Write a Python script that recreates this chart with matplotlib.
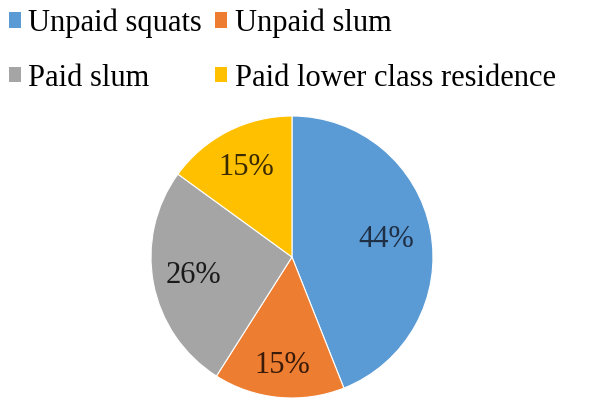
import matplotlib
matplotlib.use('Agg')
import matplotlib.pyplot as plt
from matplotlib.patches import Patch

plt.rcParams['font.family'] = ['Liberation Serif', 'DejaVu Serif']

categories = ['Unpaid squats', 'Unpaid slum', 'Paid slum', 'Paid lower class residence']
shares = [44, 15, 26, 15]
colors = ['#5B9BD5', '#ED7D31', '#A5A5A5', '#FFC000']
text_colors = ['#1f2f45', '#3a1a08', '#1a1a1a', '#3a2a00']
label_radius = [0.68, 0.77, 0.71, 0.71]

fig = plt.figure(figsize=(6.12, 4.01), dpi=100)
ax = fig.add_axes([0.2467, 0.0075, 0.4608, 0.7032])

wedges, texts, autotexts = ax.pie(
    shares, colors=colors, startangle=90, counterclock=False,
    autopct=lambda p: f'{p:.0f}%', pctdistance=1.0,
    wedgeprops=dict(edgecolor='white', linewidth=0.8),
    textprops=dict(fontsize=22))
for t, c, r in zip(autotexts, text_colors, label_radius):
    x, y = t.get_position()
    t.set_position((x * r, y * r))
    t.set_color(c)
ax.set_xlim(-1, 1)
ax.set_ylim(-1, 1)
ax.set_aspect('equal')

# legend fills column first, so reorder to get row-wise layout
order = [0, 2, 1, 3]
handles = [Patch(facecolor=colors[i], edgecolor='none') for i in order]
labels = [categories[i] for i in order]
fig.legend(handles, labels, loc='upper left', bbox_to_anchor=(-0.006, 1.01),
           ncol=2, frameon=False, fontsize=22, handlelength=0.4, handleheight=0.4,
           handletextpad=0.25, columnspacing=0.42, labelspacing=0.85,
           borderaxespad=0.0)

fig.savefig('out.png', dpi=100)
